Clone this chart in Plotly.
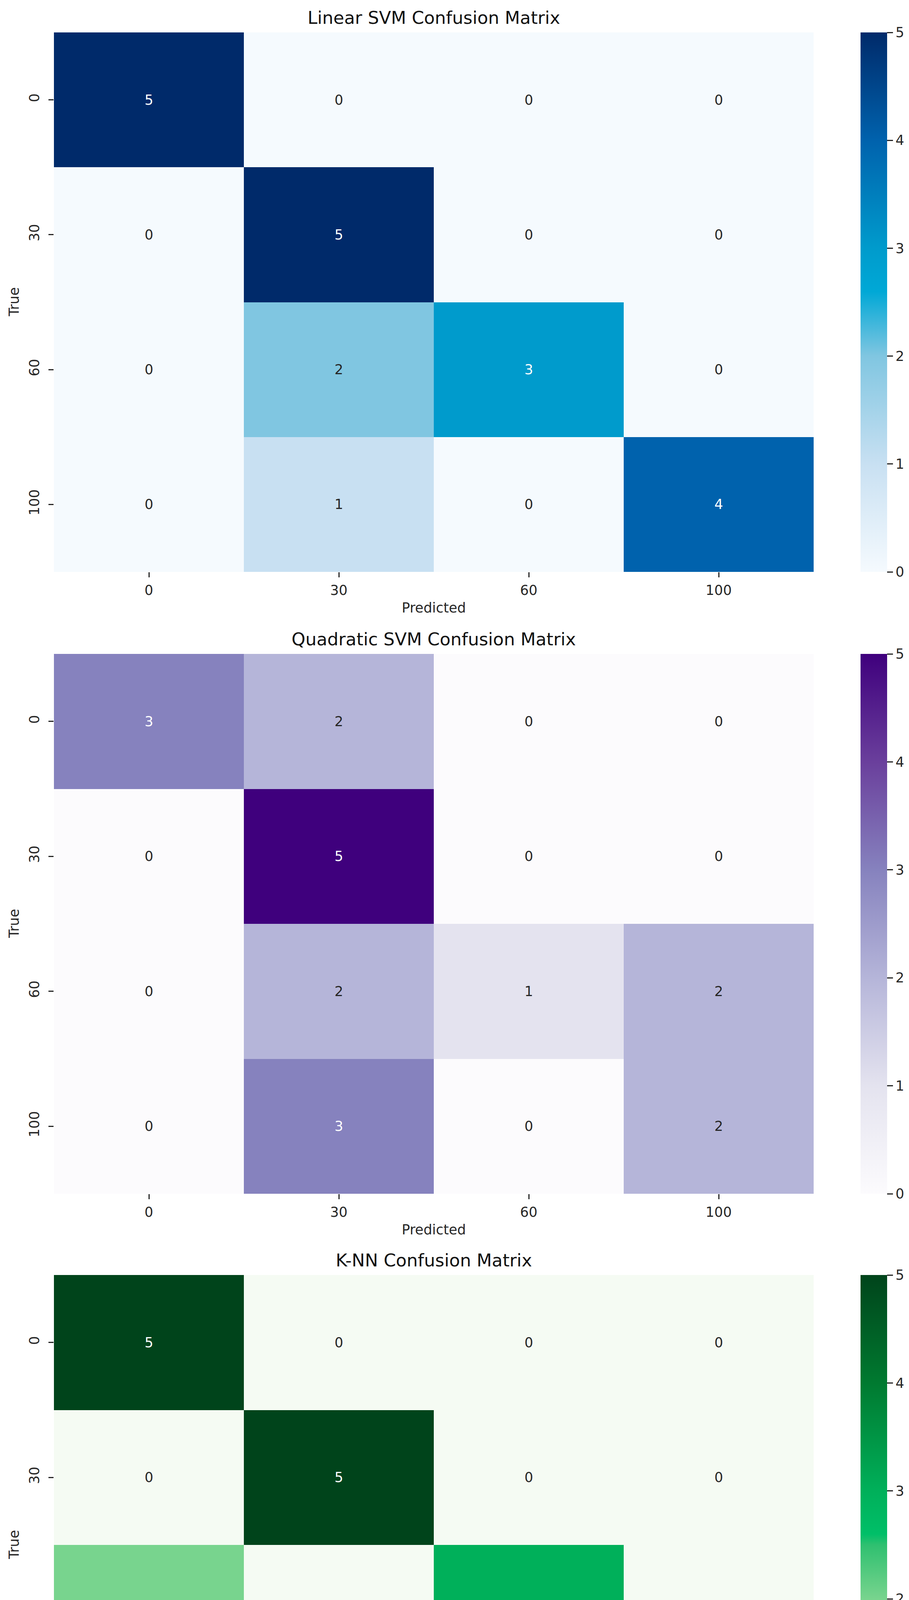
import plotly.graph_objects as go

# class labels and confusion matrices (rows = true, cols = predicted)
labels = ["0", "30", "60", "100"]

titles = ["Linear SVM Confusion Matrix",
          "Quadratic SVM Confusion Matrix",
          "K-NN Confusion Matrix"]

cm_linear = [[5, 0, 0, 0],
             [0, 5, 0, 0],
             [0, 2, 3, 0],
             [0, 1, 0, 4]]

cm_quadratic = [[3, 2, 0, 0],
                [0, 5, 0, 0],
                [0, 2, 1, 2],
                [0, 3, 0, 2]]

cm_knn = [[5, 0, 0, 0],
          [0, 5, 0, 0],
          [2, 0, 3, 0],
          [0, 1, 1, 3]]

matrices = [cm_linear, cm_quadratic, cm_knn]

# colour scales sampled from the picture's colour bars
blues = [[0.0, "#f5fafe"], [0.2, "#c8e0f2"], [0.4, "#80c6e1"], [0.52, "#00a8d6"],
         [0.6, "#009bcc"], [0.8, "#0062ad"], [1.0, "#002a6a"]]
purples = [[0.0, "#fcfbfd"], [0.2, "#e4e3ef"], [0.4, "#b5b5d9"], [0.6, "#8682be"],
           [0.8, "#6a3f9c"], [1.0, "#3f007d"]]
greens = [[0.0, "#f5fbf3"], [0.2, "#c7ecca"], [0.4, "#78d48e"], [0.5, "#2fc070"],
          [0.52, "#00bf68"], [0.6, "#00b05a"], [0.8, "#007a30"], [1.0, "#00441b"]]
scales = [blues, purples, greens]

W, H = 2326, 4759
FONT = "DejaVu Sans"
TXT = "#262626"

# pixel boxes of the three heatmaps (top, bottom)
x0, x1 = 130, 2074
boxes = [(75, 1456), (1666, 3048), (3256, 4638)]

fig = go.Figure()
annotations = []
k = len(labels)

for i, (cm, title, cs, (top, bot)) in enumerate(zip(matrices, titles, scales, boxes)):
    n = "" if i == 0 else str(i + 1)
    ydom = [1 - bot / H, 1 - top / H]
    fig.add_trace(go.Heatmap(
        z=cm, x=labels, y=labels,
        colorscale=cs, zmin=0, zmax=5,
        xaxis="x" + n, yaxis="y" + n,
        xgap=0, ygap=0,
        hoverinfo="skip",
        colorbar=dict(
            x=2194 / W, xanchor="left", xpad=0,
            y=(ydom[0] + ydom[1]) / 2, yanchor="middle", ypad=0,
            len=bot - top, lenmode="pixels",
            thickness=68, thicknessmode="pixels",
            outlinewidth=0,
            tickvals=[0, 1, 2, 3, 4, 5],
            ticks="outside", ticklen=15, tickwidth=2.5, tickcolor=TXT,
            tickfont=dict(family=FONT, size=35, color=TXT),
        ),
    ))

    axis_common = dict(showgrid=False, zeroline=False, showline=False,
                       ticks="outside", ticklen=13, tickwidth=2.5, tickcolor=TXT,
                       tickfont=dict(family=FONT, size=35, color=TXT),
                       type="category")
    fig.update_layout(**{
        "xaxis" + n: dict(domain=[x0 / W, x1 / W], anchor="y" + n,
                          range=[-0.5, k - 0.5],
                          ticklabelstandoff=3, **axis_common),
        "yaxis" + n: dict(domain=ydom, anchor="x" + n, range=[k - 0.5, -0.5],
                          tickangle=-90, ticklabelstandoff=10, **axis_common),
    })

    # cell counts, placed by category index
    for r, row in enumerate(cm):
        for c, v in enumerate(row):
            annotations.append(dict(
                x=c, y=r, xref="x" + n, yref="y" + n,
                text=str(v), showarrow=False,
                font=dict(family=FONT, size=35, color="white" if v >= 3 else TXT),
            ))

    # title, axis titles
    annotations.append(dict(
        x=(x0 + x1) / 2 / W, y=ydom[1], xref="paper", yref="paper",
        text=title, showarrow=False, yanchor="bottom", yshift=9,
        font=dict(family=FONT, size=45, color="#111111"),
    ))
    annotations.append(dict(
        x=(x0 + x1) / 2 / W, y=ydom[0], xref="paper", yref="paper",
        text="Predicted", showarrow=False, yanchor="middle", yshift=-92,
        font=dict(family=FONT, size=35, color=TXT),
    ))
    annotations.append(dict(
        x=28 / W, y=(ydom[0] + ydom[1]) / 2, xref="paper", yref="paper",
        text="True", showarrow=False, textangle=-90,
        xanchor="center", yanchor="middle",
        font=dict(family=FONT, size=35, color=TXT),
    ))

fig.update_layout(
    width=W, height=H,
    margin=dict(l=0, r=0, t=0, b=0),
    paper_bgcolor="white", plot_bgcolor="white",
    font=dict(family=FONT, color=TXT),
    annotations=annotations,
)

fig.write_html("out.html")
